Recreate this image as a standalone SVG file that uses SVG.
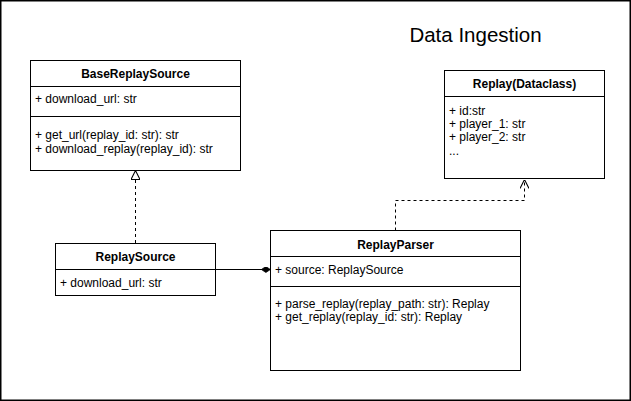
<svg xmlns="http://www.w3.org/2000/svg" width="631" height="401" viewBox="0 0 631 401">
<style>
.box{fill:#fff;stroke:#000;stroke-width:1}
.ln{stroke:#000;stroke-width:1;fill:none}
.dash{stroke-dasharray:3,3}
.h{font-family:"Liberation Sans",Arial,sans-serif;font-size:12px;font-weight:bold;text-anchor:middle;fill:#000}
.t{font-family:"Liberation Sans",Arial,sans-serif;font-size:12px;fill:#000}
.title{font-family:"Liberation Sans",Arial,sans-serif;font-size:20.5px;fill:#000;text-anchor:middle}
</style>
<defs>
<marker id="tri" viewBox="0 0 10 10" refX="9.5" refY="5" markerWidth="9" markerHeight="9" orient="auto" markerUnits="userSpaceOnUse">
<path d="M0,0 L10,5 L0,10 Z" fill="#fff" stroke="#000" stroke-width="1.2"/>
</marker>
<marker id="open" viewBox="0 0 10 10" refX="9.5" refY="5" markerWidth="9" markerHeight="9" orient="auto" markerUnits="userSpaceOnUse">
<path d="M0,0 L10,5 L0,10" fill="none" stroke="#000" stroke-width="1.2"/>
</marker>
<marker id="dia" viewBox="0 0 12 8" refX="11.5" refY="4" markerWidth="9" markerHeight="6" orient="auto" markerUnits="userSpaceOnUse">
<path d="M0,4 L6,0 L12,4 L6,8 Z" fill="#000" stroke="#000" stroke-width="1"/>
</marker>
</defs>
<rect x="0.75" y="0.75" width="629.5" height="399.5" fill="#fff" stroke="#000" stroke-width="1.5"/>
<text class="title" x="475.5" y="42">Data Ingestion</text>

<g id="connectors">
<path class="ln dash" d="M135.5,243 L135.5,171" marker-end="url(#tri)"/>
<path class="ln dash" d="M395.5,230.5 L395.5,200.5 L524.5,200.5 L524.5,180" marker-end="url(#open)"/>
<path class="ln" d="M215,269.5 L270,269.5" marker-end="url(#dia)"/>
</g>

<g id="BaseReplaySource">
<rect class="box" x="30.5" y="60.5" width="210" height="110"/>
<line class="ln" x1="30.5" y1="86.5" x2="240.5" y2="86.5"/>
<line class="ln" x1="30.5" y1="116.5" x2="240.5" y2="116.5"/>
<text class="h" x="135.5" y="78">BaseReplaySource</text>
<text class="t" x="35" y="103">+ download_url: str</text>
<text class="t" x="35" y="139">+ get_url(replay_id: str): str</text>
<text class="t" x="35" y="153">+ download_replay(replay_id): str</text>
</g>

<g id="Replay">
<rect class="box" x="444.5" y="70.5" width="160" height="108"/>
<line class="ln" x1="444.5" y1="96.5" x2="604.5" y2="96.5"/>
<text class="h" x="524.5" y="88">Replay(Dataclass)</text>
<text class="t" x="449" y="115">+ id:str</text>
<text class="t" x="449" y="128">+ player_1: str</text>
<text class="t" x="449" y="141">+ player_2: str</text>
<text class="t" x="449" y="155">...</text>
</g>

<g id="ReplaySource">
<rect class="box" x="55.5" y="243.5" width="160" height="52"/>
<line class="ln" x1="55.5" y1="269.5" x2="215.5" y2="269.5"/>
<text class="h" x="135.5" y="261">ReplaySource</text>
<text class="t" x="60" y="287">+ download_url: str</text>
</g>

<g id="ReplayParser">
<rect class="box" x="270.5" y="230.5" width="250" height="140"/>
<line class="ln" x1="270.5" y1="256.5" x2="520.5" y2="256.5"/>
<line class="ln" x1="270.5" y1="286.5" x2="520.5" y2="286.5"/>
<text class="h" x="395.5" y="249">ReplayParser</text>
<text class="t" x="275" y="274">+ source: ReplaySource</text>
<text class="t" x="275" y="308">+ parse_replay(replay_path: str): Replay</text>
<text class="t" x="275" y="321">+ get_replay(replay_id: str): Replay</text>
</g>
</svg>
